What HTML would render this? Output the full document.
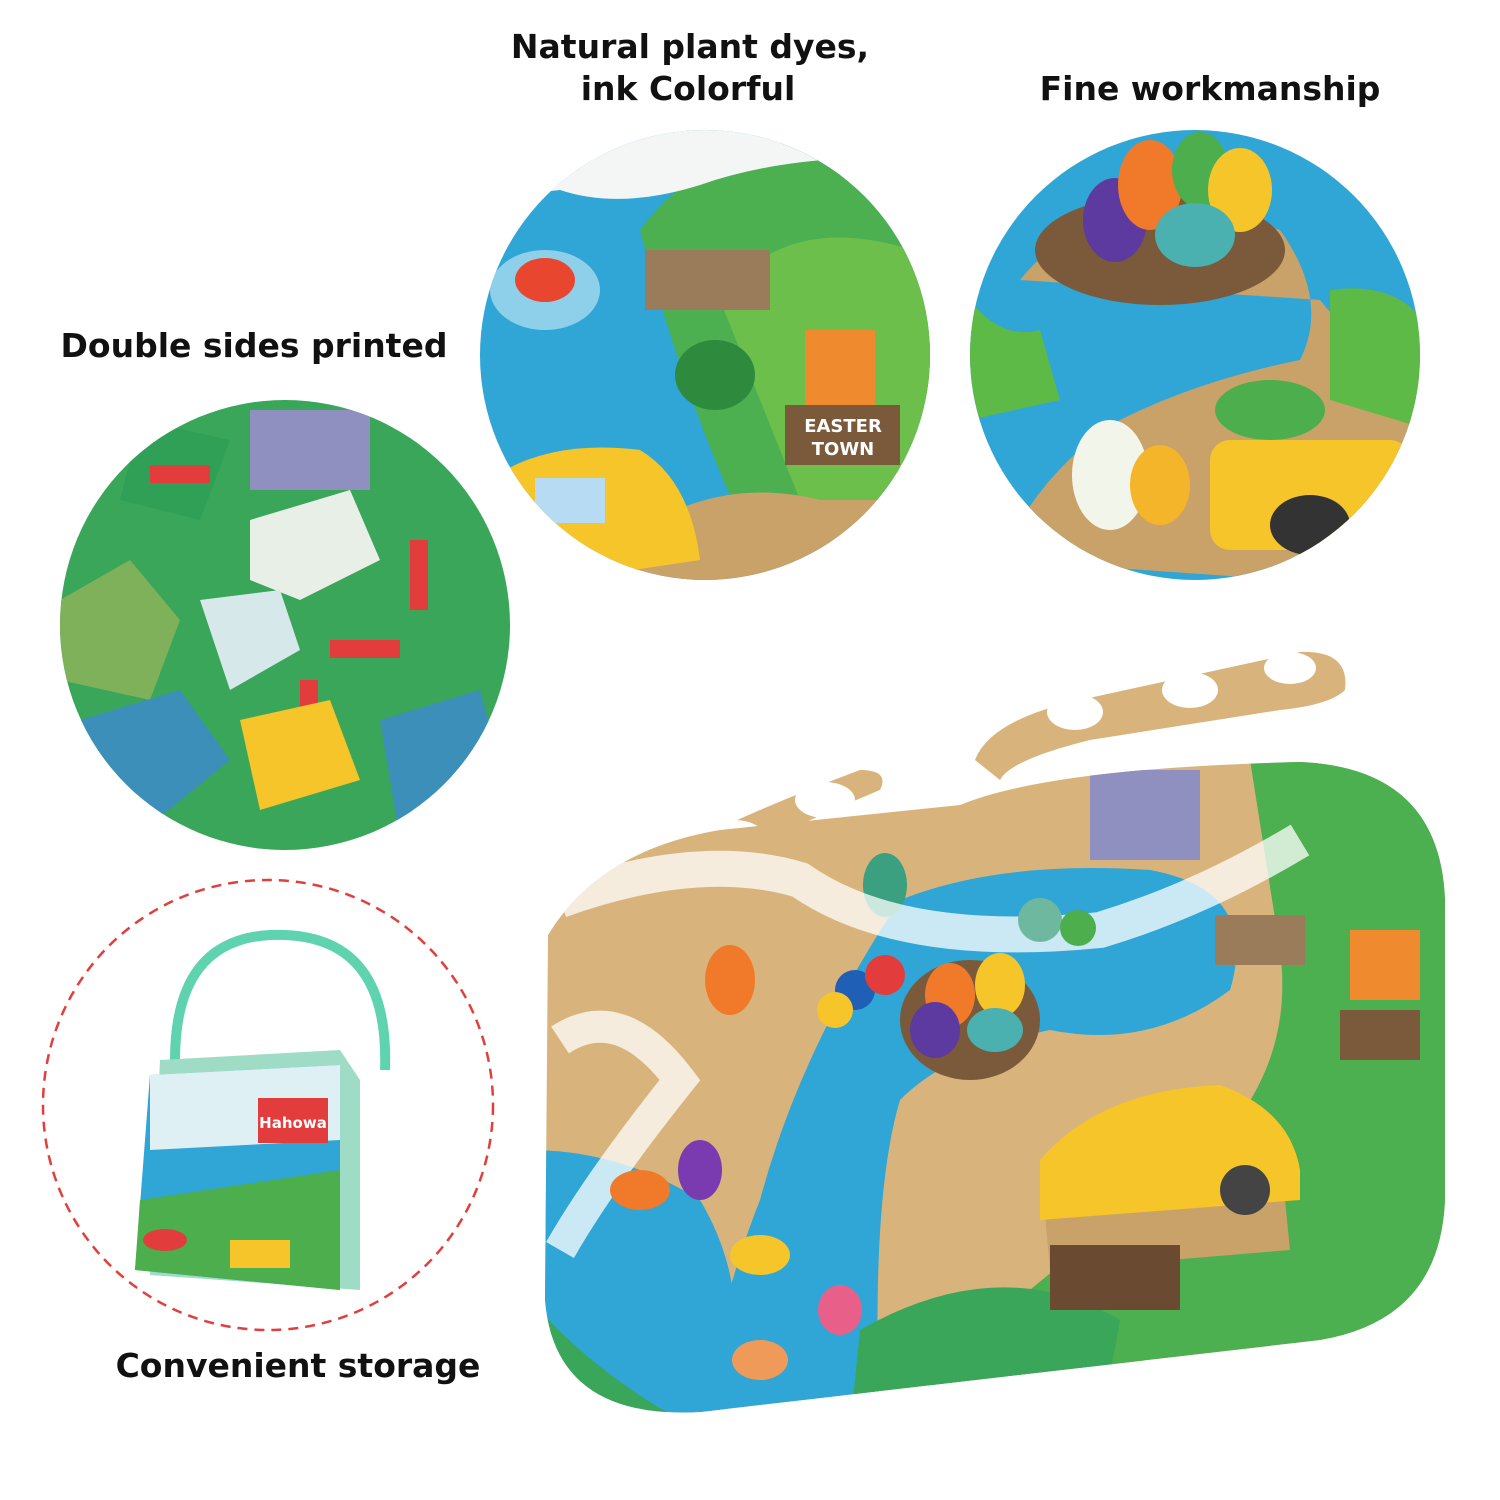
<!DOCTYPE html>
<html><head><meta charset="utf-8"><style>
html,body{margin:0;padding:0;background:#fff;}
svg{display:block}
text{font-family:"DejaVu Sans","Liberation Sans",sans-serif;font-weight:bold;fill:#111;}
</style></head><body>
<svg width="1500" height="1500" viewBox="0 0 1500 1500" xmlns="http://www.w3.org/2000/svg">
<defs>
<clipPath id="c1"><circle cx="705" cy="355" r="225"/></clipPath>
<clipPath id="c2"><circle cx="1195" cy="355" r="225"/></clipPath>
<clipPath id="c3"><circle cx="285" cy="625" r="225"/></clipPath>
<clipPath id="big"><path d="M548,935 Q600,850 720,830 L960,805 Q1050,768 1300,762 Q1440,768 1445,900 L1445,1200 Q1440,1320 1320,1340 L700,1412 Q555,1420 545,1300 Z"/></clipPath>
</defs>

<text x="690" y="58" font-size="33" text-anchor="middle">Natural plant dyes,</text>
<text x="688" y="100" font-size="33" text-anchor="middle">ink Colorful</text>
<text x="1210" y="100" font-size="33" text-anchor="middle">Fine workmanship</text>
<text x="254" y="357" font-size="33" text-anchor="middle">Double sides printed</text>
<text x="298" y="1377" font-size="33" text-anchor="middle">Convenient storage</text>

<!-- circle 1 -->
<g clip-path="url(#c1)">
<rect x="470" y="120" width="470" height="470" fill="#2fa6d6"/>
<path d="M640,230 Q700,150 800,140 L940,140 L940,560 L760,560 Q690,420 640,230Z" fill="#4caf50"/>
<path d="M720,300 Q790,200 940,260 L940,500 L800,500Z" fill="#6cbf4a"/>
<path d="M470,120 L940,120 L940,160 Q800,150 700,185 Q620,210 560,190 L470,200Z" fill="#f4f6f6"/>
<rect x="645" y="250" width="125" height="60" fill="#9a7b5a"/>
<rect x="805" y="330" width="70" height="75" fill="#f08a2e"/>
<rect x="785" y="405" width="115" height="60" fill="#7a5a3a"/>
<text x="843" y="432" font-size="18" text-anchor="middle" style="fill:#fff">EASTER</text>
<text x="843" y="455" font-size="18" text-anchor="middle" style="fill:#fff">TOWN</text>
<path d="M600,560 Q700,470 820,500 L940,500 L940,590 L600,590Z" fill="#c9a26a"/>
<path d="M505,470 Q560,440 640,450 Q690,480 700,560 L500,590Z" fill="#f5c52a"/>
<rect x="535" y="478" width="70" height="45" fill="#b7dbf2"/>
<ellipse cx="545" cy="290" rx="55" ry="40" fill="#8ed0ea"/>
<ellipse cx="545" cy="280" rx="30" ry="22" fill="#e8462e"/>
<ellipse cx="715" cy="375" rx="40" ry="35" fill="#2e8b3e"/>
</g>

<!-- circle 2 -->
<g clip-path="url(#c2)">
<rect x="960" y="120" width="470" height="470" fill="#2fa6d6"/>
<path d="M1020,280 Q1100,180 1280,230 Q1330,300 1300,360 Q1200,380 1120,420 Q1040,470 1000,560 L1430,590 L1430,380 Q1350,340 1320,300 Z" fill="#c9a26a"/>
<path d="M970,300 Q1000,340 1040,330 L1060,400 L970,420Z" fill="#5dba47"/>
<path d="M1330,290 Q1400,280 1430,330 L1430,430 L1330,400Z" fill="#5dba47"/>
<ellipse cx="1160" cy="250" rx="125" ry="55" fill="#7a5a3a"/>
<ellipse cx="1115" cy="220" rx="32" ry="42" fill="#5c3aa0"/>
<ellipse cx="1150" cy="185" rx="32" ry="45" fill="#f07a2a"/>
<ellipse cx="1200" cy="170" rx="28" ry="38" fill="#4cae4c"/>
<ellipse cx="1240" cy="190" rx="32" ry="42" fill="#f5c52a"/>
<ellipse cx="1195" cy="235" rx="40" ry="32" fill="#4ab0b0"/>
<rect x="1210" y="440" width="200" height="110" rx="20" fill="#f5c52a"/>
<ellipse cx="1270" cy="410" rx="55" ry="30" fill="#4cae4c"/>
<ellipse cx="1310" cy="525" rx="40" ry="30" fill="#333"/>
<ellipse cx="1110" cy="475" rx="38" ry="55" fill="#f2f5ea"/>
<ellipse cx="1160" cy="485" rx="30" ry="40" fill="#f5b52a"/>
</g>

<!-- circle 3 -->
<g clip-path="url(#c3)">
<rect x="60" y="400" width="450" height="450" fill="#3aa65a"/>
<rect x="250" y="410" width="120" height="80" fill="#8f8fc0"/>
<polygon points="250,520 350,490 380,560 300,600 250,580" fill="#e8efe6"/>
<polygon points="140,420 230,440 200,520 120,500" fill="#2fa055"/>
<rect x="150" y="465" width="60" height="18" fill="#e23c3c"/>
<rect x="410" y="540" width="18" height="70" fill="#e23c3c"/>
<rect x="330" y="640" width="70" height="18" fill="#e23c3c"/>
<rect x="300" y="680" width="18" height="60" fill="#e23c3c"/>
<polygon points="60,600 130,560 180,620 150,700 60,680" fill="#7fb05a"/>
<polygon points="80,720 180,690 230,760 120,850 60,830" fill="#3b8fb8"/>
<polygon points="200,600 280,590 300,650 230,690" fill="#d6e8ea"/>
<polygon points="240,720 330,700 360,780 260,810" fill="#f5c52a"/>
<polygon points="380,720 480,690 510,800 400,840" fill="#3b8fb8"/>
</g>

<!-- dashed circle -->
<circle cx="268" cy="1105" r="225" fill="none" stroke="#e0403c" stroke-width="2.5" stroke-dasharray="10,7"/>
<path d="M175,1060 Q175,940 270,935 Q390,930 385,1070" fill="none" stroke="#5fd3b0" stroke-width="10"/>
<path d="M160,1060 L340,1050 L360,1080 L360,1290 L150,1275 Z" fill="#9fdcc6"/>
<path d="M150,1075 L340,1065 L340,1290 L135,1270 Z" fill="#2fa6d6"/>
<path d="M150,1075 L340,1065 L340,1140 L150,1150 Z" fill="#dff0f5"/>
<path d="M140,1200 L340,1170 L340,1290 L135,1270 Z" fill="#4cae4c"/>
<rect x="258" y="1098" width="70" height="45" fill="#e23c3c"/>
<text x="293" y="1128" font-size="15" text-anchor="middle" style="fill:#fff">Hahowa</text>
<rect x="230" y="1240" width="60" height="28" fill="#f5c52a"/>
<ellipse cx="165" cy="1240" rx="22" ry="11" fill="#e23c3c"/>

<!-- big puzzle -->
<path d="M560,955 Q540,930 600,890 Q700,830 860,770 Q890,770 880,790 Q760,840 620,910 Q575,935 575,960Z" fill="#d8b47c"/>
<path d="M975,760 Q990,720 1080,700 L1300,652 Q1350,650 1345,690 Q1330,705 1280,710 L1090,740 Q1010,760 1000,780Z" fill="#d8b47c"/>
<ellipse cx="1075" cy="712" rx="28" ry="18" fill="#fff"/><ellipse cx="1190" cy="690" rx="28" ry="18" fill="#fff"/><ellipse cx="1290" cy="668" rx="26" ry="16" fill="#fff"/>
<ellipse cx="825" cy="800" rx="30" ry="18" fill="#fff"/><ellipse cx="735" cy="838" rx="30" ry="18" fill="#fff"/><ellipse cx="635" cy="880" rx="30" ry="18" fill="#fff"/>
<g clip-path="url(#big)">
<rect x="530" y="750" width="920" height="680" fill="#d8b47c"/>
<path d="M1250,760 L1450,760 L1450,1350 L900,1420 Q1000,1300 1150,1200 Q1300,1100 1280,950Z" fill="#4caf50"/>
<path d="M900,900 Q1000,860 1150,870 Q1260,890 1230,990 Q1150,1050 1050,1030 Q950,1050 900,1100 Q870,1200 880,1430 L700,1430 Q720,1300 760,1200 Q800,1050 900,900Z" fill="#2fa6d6"/>
<path d="M530,1150 Q620,1150 700,1200 Q760,1300 720,1430 L530,1430Z" fill="#2fa6d6"/>
<path d="M530,1300 Q600,1380 700,1430 L530,1430Z" fill="#3aa65a"/>
<path d="M860,1330 Q1000,1250 1120,1320 L1100,1430 L850,1430Z" fill="#3aa65a"/>
<path d="M1040,1160 L1280,1150 L1290,1250 L1050,1270Z" fill="#c9a26a"/>
<path d="M1040,1160 Q1100,1090 1220,1085 Q1290,1110 1300,1170 L1300,1200 L1040,1220Z" fill="#f5c52a"/>
<circle cx="1245" cy="1190" r="25" fill="#444"/>
<ellipse cx="970" cy="1020" rx="70" ry="60" fill="#7a5a3a"/>
<ellipse cx="950" cy="995" rx="25" ry="32" fill="#f07a2a"/>
<ellipse cx="1000" cy="985" rx="25" ry="32" fill="#f5c52a"/>
<ellipse cx="935" cy="1030" rx="25" ry="28" fill="#5c3aa0"/>
<ellipse cx="995" cy="1030" rx="28" ry="22" fill="#4ab0b0"/>
<ellipse cx="730" cy="980" rx="25" ry="35" fill="#f07a2a"/>
<ellipse cx="885" cy="885" rx="22" ry="32" fill="#3aa080"/>
<rect x="1090" y="770" width="110" height="90" fill="#8f8fc0"/>
<path d="M560,900 Q700,850 800,880 Q900,950 1100,930 Q1200,900 1300,840" fill="none" stroke="#fff" stroke-width="36" opacity=".75"/>
<path d="M560,1040 Q620,1000 680,1080 Q600,1180 560,1250" fill="none" stroke="#fff" stroke-width="32" opacity=".75"/>
<circle cx="855" cy="990" r="20" fill="#1f5fb5"/><circle cx="885" cy="975" r="20" fill="#e23c3c"/><circle cx="835" cy="1010" r="18" fill="#f5c52a"/>
<circle cx="1040" cy="920" r="22" fill="#6fb8a0"/><circle cx="1078" cy="928" r="18" fill="#4cae4c"/>
<rect x="1340" y="1010" width="80" height="50" fill="#7a5a3a"/>
<rect x="1215" y="915" width="90" height="50" fill="#9a7b5a"/>
<rect x="1350" y="930" width="70" height="70" fill="#f08a2e"/>
<rect x="1050" y="1245" width="130" height="65" fill="#6a4a30"/>
<ellipse cx="640" cy="1190" rx="30" ry="20" fill="#f07a2a"/>
<ellipse cx="700" cy="1170" rx="22" ry="30" fill="#7a3ab0"/>
<ellipse cx="760" cy="1255" rx="30" ry="20" fill="#f5c52a"/>
<ellipse cx="840" cy="1310" rx="22" ry="25" fill="#e8608a"/>
<ellipse cx="760" cy="1360" rx="28" ry="20" fill="#f09a5a"/>
</g>
</svg>
</body></html>
